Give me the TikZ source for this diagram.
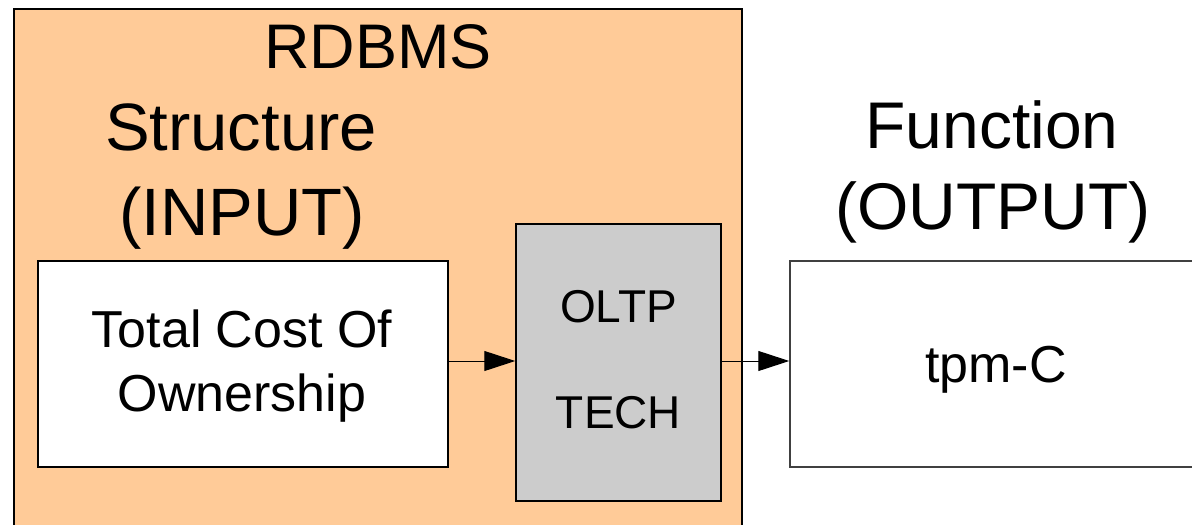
\documentclass[tikz,border=0pt]{standalone}
\usepackage{fontspec}
\setmainfont{Liberation Sans}
\usetikzlibrary{arrows.meta,calc}
\definecolor{rdbmsorange}{HTML}{FFCB98}
\definecolor{techgray}{HTML}{CCCCCC}
\newcommand{\fsz}[1]{\fontsize{#1}{#1}\selectfont}
\tikzset{
  box/.style={draw=black, line width=1.5pt, inner sep=0pt},
  txt/.style={anchor=base, inner sep=0pt, text=black},
  flow/.style={line width=1pt, -{Triangle[length=31pt,width=20pt]}},
}
\begin{document}
\begin{tikzpicture}[x=1pt,y=-1pt]
  \useasboundingbox (0,0) rectangle (1192,525);
  \clip (0,0) rectangle (1192,525);
  \fill[white] (0,0) rectangle (1192,525);

  % RDBMS frame
  \draw[fill=rdbmsorange, line width=2.5pt] (14,9) rectangle (742,560);

  % boxes
  \node[box, fill=white, minimum width=410pt, minimum height=206pt] (tco) at (243,364) {};
  \node[box, fill=techgray, minimum width=205pt, minimum height=277pt] (oltp) at (618.5,362.5) {};
  \node[box, draw=black!75, fill=white, minimum width=420pt, minimum height=206pt] (tpm) at (1000,364) {};

  % connectors
  \draw[flow] ($(tco.east)+(0,-3)$) -- ($(oltp.west |- tco.east)+(0,-3)$);
  \draw[flow] ($(oltp.east |- tpm.west)+(0,-3)$) -- ($(tpm.west)+(0,-3)$);

  % titles
  \node[txt, font=\fsz{63}] (rdbms) at (378,68) {RDBMS};
  \node[txt, font=\fsz{67}] (struct) at (241,150) {Structure};
  \node[txt, font=\fsz{67}] (input) at (242,235) {(INPUT)};
  \node[txt, font=\fsz{66}] (func) at (992,148) {Function};
  \node[txt, font=\fsz{66}] (output) at (993,229) {(OUTPUT)};

  % box texts
  \node[txt, font=\fsz{52}] (tco1) at (242,347) {Total Cost Of};
  \node[txt, font=\fsz{52}] (tco2) at (242,411) {Ownership};
  \node[txt, font=\fsz{46}] (oltp1) at (618.5,322) {OLTP};
  \node[txt, font=\fsz{46}] (oltp2) at (618.5,428) {TECH};
  \node[txt, font=\fsz{52}] (tpmc) at (996,382) {tpm-C};
\end{tikzpicture}
\end{document}
